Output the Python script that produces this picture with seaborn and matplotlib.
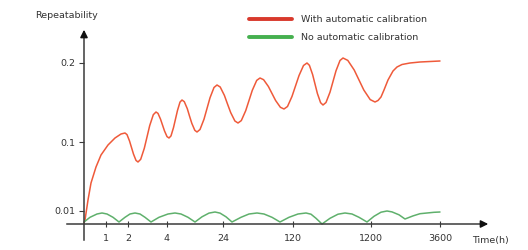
import pandas as pd
import matplotlib.pyplot as plt
import seaborn as sns
from matplotlib.lines import Line2D

sns.set_theme(style="white")
plt.rcParams['font.family'] = ['DejaVu Sans']

# Valeurs (unités de l'axe : 0 = axe horizontal / axe vertical)
red_x = [0, 1, 4, 7, 12, 17, 24, 31, 37, 41,
         43, 45.5, 47.5, 49.5, 52, 54,
         56.7, 60.3, 63, 65.7, 69.3, 72,
         74, 76.5, 78.5, 80.5, 83, 85,
         87, 89.5, 91.5, 93.5, 96, 98,
         100.3, 103.3, 105.5, 107.8, 110.8, 113,
         116, 120, 123, 126, 130, 133,
         136.2, 140.4, 143.5, 146.7, 150.9, 154,
         157.3, 161.7, 165, 168.3, 172.7, 176,
         179.6, 184.4, 188, 191.6, 196.4, 200,
         203.5, 208, 211.5, 215, 219.5, 223,
         225.4, 228.6, 231, 233.4, 236.6, 239,
         242, 246, 249, 252, 256, 259,
         263.8, 270.2, 275, 279.8, 286.2, 291,
         294, 297, 300, 304, 309, 313, 318, 326, 336, 346, 356]
red_y = [1, 4, 24, 41, 57, 69, 79, 86, 90, 91,
         89.4, 83.1, 76.5, 69.9, 63.6, 62,
         64.7, 75.7, 87, 98.4, 109.3, 112,
         110.6, 104.9, 99, 93.1, 87.4, 86,
         88.1, 96.4, 105, 113.6, 121.9, 124,
         122.3, 115.3, 108, 100.7, 93.7, 92,
         94.5, 104.8, 115.5, 126.2, 136.5, 139,
         137, 128.6, 120, 111.4, 103, 101,
         103.4, 113.3, 123.5, 133.7, 143.6, 146,
         144.3, 137.5, 130.5, 123.5, 116.7, 115,
         117.5, 127.6, 138, 148.4, 158.5, 161,
         158.7, 149.5, 140, 130.5, 121.3, 119,
         121.5, 131.8, 142.5, 153.2, 163.5, 166,
         163.6, 154, 144, 134, 124.4, 122,
         123.5, 127, 134, 144, 153, 157, 159.5, 161, 162, 162.5, 163]

green_x = [0, 6, 13, 18, 23, 29, 35, 41, 46, 51, 56, 61, 67, 75, 84, 91,
           97, 104, 111, 118, 125, 131, 136, 142, 148, 157, 165, 173,
           180, 188, 196, 205, 214, 222, 227, 232, 238, 246, 254, 261,
           268, 275, 283, 290, 297, 303, 308, 315, 321, 329, 336, 343, 350, 356]
green_y = [2, 6.7, 10, 11, 10, 6.7, 2, 6.7, 10, 11, 10, 6.7, 2, 6.7, 10, 11,
           10, 6.7, 2, 7.2, 10.9, 12, 10.9, 7.2, 2, 6.7, 10, 11,
           10, 6.7, 2, 6.7, 10, 11, 9.8, 5.7, 0, 5.7, 9.8, 11,
           10, 6.7, 2, 7.7, 11.8, 13, 12.1, 9.2, 5, 8.1, 10.3, 11, 11.7, 12]

series_names = ["With automatic calibration", "No automatic calibration"]
series_colors = ["#ef5a3a", "#5fb06c"]
legend_colors = ["#d8392c", "#45b04f"]

x_tick_pos = [22, 44, 83, 139, 209, 287, 356]
x_tick_labels = ["1", "2", "4", "24", "120", "1200", "3600"]
y_tick_pos = [13, 82, 161]
y_tick_labels = ["0.01", "0.1", "0.2"]

df = pd.concat([
    pd.DataFrame({"t": red_x, "r": red_y, "serie": series_names[0]}),
    pd.DataFrame({"t": green_x, "r": green_y, "serie": series_names[1]}),
])

fig = plt.figure(figsize=(5.28, 2.5), dpi=100)
ax = fig.add_axes([0, 0, 1, 1])
sns.lineplot(data=df, x="t", y="r", hue="serie", sort=False, estimator=None,
             palette=dict(zip(series_names, series_colors)), linewidth=1.1, ax=ax, legend=False,
             solid_joinstyle="round", solid_capstyle="round")
ax.set_xlim(-84, 444)
ax.set_ylim(-26, 224)
ax.set_xlabel("")
ax.set_ylabel("")

axis_col = "#3a3a3a"
txt_col = "#333333"
fs = 6.8
for s in ["top", "right"]:
    ax.spines[s].set_visible(False)
ax.spines["left"].set_position(("data", 0))
ax.spines["bottom"].set_position(("data", 0))
ax.spines["left"].set_bounds(-16, 190)
ax.spines["bottom"].set_bounds(-17, 400)
for s in ["left", "bottom"]:
    ax.spines[s].set_color(axis_col)
    ax.spines[s].set_linewidth(1.1)

ax.set_xticks(x_tick_pos)
ax.set_xticklabels(x_tick_labels)
ax.set_yticks(y_tick_pos)
ax.set_yticklabels(y_tick_labels)
ax.tick_params(axis="x", direction="inout", length=4, width=0.8, color=axis_col,
               labelsize=fs, labelcolor=txt_col, pad=5, bottom=True)
ax.tick_params(axis="y", direction="out", length=3.5, width=0.8, color=axis_col,
               labelsize=fs, labelcolor=txt_col, pad=3, left=True)

# fleches des axes
ax.annotate("", xy=(0, 197), xytext=(0, 185),
            arrowprops=dict(arrowstyle="-|>", color="#111111", lw=1.1, mutation_scale=11))
ax.annotate("", xy=(407, 0), xytext=(395, 0),
            arrowprops=dict(arrowstyle="-|>", color="#111111", lw=1.1, mutation_scale=11))

ax.text(-18, 208, "Repeatability", fontsize=fs, color=txt_col, ha="center", va="center")
ax.text(388, -16, "Time(h)", fontsize=fs, color=txt_col, ha="left", va="center")

handles = [Line2D([0], [0], color=c, lw=2.8) for c in legend_colors]
ax.legend(handles, series_names, loc="upper left", bbox_to_anchor=(249 / 528, 1 - 15 / 250),
          bbox_transform=fig.transFigure, frameon=False, fontsize=fs, handlelength=4.6,
          handletextpad=0.9, labelspacing=1.0, borderpad=0, borderaxespad=0,
          labelcolor=txt_col)

fig.savefig("out.png", dpi=100)
